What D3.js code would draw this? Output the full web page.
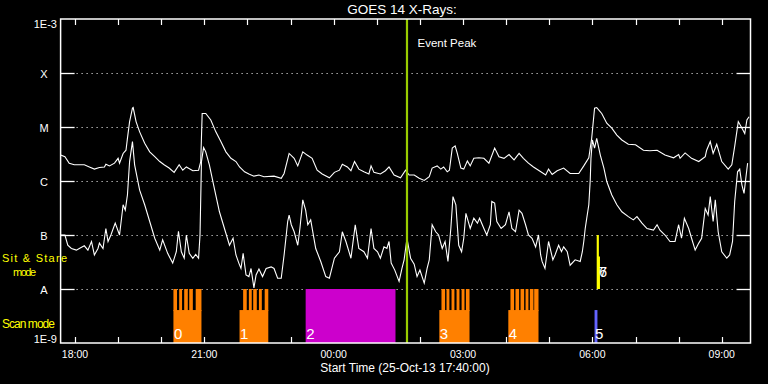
<!DOCTYPE html>
<html>
<head>
<meta charset="utf-8">
<script src="https://cdn.jsdelivr.net/npm/d3@7"></script>
<style>
  html, body { margin: 0; padding: 0; background: #000; }
  svg { display: block; }
  text { font-family: "Liberation Sans", Arial, sans-serif; fill: #fff; }
</style>
</head>
<body>
<svg></svg>
<script>
const width = 768;
const height = 384;

// -----------------------------
// DATA
// -----------------------------
// minutes after 25-Oct-13 17:40 UT, log10 flux (W/m^2)
const startTime = Date.UTC(2013, 9, 25, 17, 40);
const spanMinutes = 960;

const fluxLong = [
  [0,-5.52],[6,-5.55],[12,-5.67],[19,-5.70],[33,-5.70],[40,-5.74],[47,-5.78],[54,-5.75],[61,-5.74],[63,-5.69],
  [68,-5.72],[75,-5.67],[80,-5.58],[82,-5.67],[87,-5.49],[91,-5.43],[93,-5.21],[96,-4.90],[100,-4.65],[101,-4.64],
  [105,-4.90],[110,-5.09],[117,-5.30],[124,-5.46],[131,-5.55],[138,-5.64],[144,-5.70],[151,-5.76],[158,-5.84],[165,-5.70],
  [170,-5.80],[175,-5.74],[184,-5.81],[192,-5.80],[195,-5.64],[197,-4.75],[202,-4.75],[209,-4.87],[216,-5.09],[223,-5.27],
  [230,-5.46],[237,-5.58],[244,-5.64],[249,-5.74],[256,-5.83],[262,-5.87],[269,-5.91],[276,-5.89],[283,-5.92],[297,-5.91],
  [307,-5.95],[311,-5.86],[318,-5.49],[325,-5.58],[330,-5.72],[337,-5.46],[343,-5.52],[350,-5.58],[357,-5.80],[364,-5.87],
  [374,-5.94],[381,-5.84],[388,-5.80],[392,-5.69],[399,-5.74],[404,-5.81],[409,-5.64],[415,-5.78],[422,-5.83],[429,-5.87],
  [432,-5.72],[436,-5.84],[445,-5.87],[452,-5.81],[457,-5.74],[464,-5.89],[473,-5.94],[480,-5.80],[485,-5.89],[492,-5.89],
  [499,-5.95],[506,-5.99],[513,-5.92],[517,-5.76],[524,-5.72],[529,-5.78],[533,-5.74],[538,-5.83],[541,-5.80],[545,-5.39],
  [549,-5.35],[552,-5.49],[557,-5.76],[561,-5.78],[566,-5.63],[570,-5.72],[575,-5.58],[582,-5.57],[589,-5.58],[596,-5.67],
  [604,-5.39],[610,-5.55],[617,-5.58],[624,-5.51],[631,-5.61],[638,-5.49],[644,-5.58],[651,-5.67],[658,-5.74],[665,-5.80],
  [675,-5.89],[679,-5.78],[684,-5.88],[691,-5.81],[700,-5.76],[709,-5.86],[721,-5.86],[728,-5.72],[735,-5.57],[739,-5.21],
  [743,-4.65],[746,-4.64],[753,-4.75],[760,-4.93],[767,-5.02],[774,-5.15],[781,-5.24],[790,-5.32],[800,-5.33],[811,-5.43],
  [820,-5.44],[830,-5.43],[841,-5.52],[853,-5.57],[860,-5.51],[862,-5.58],[869,-5.48],[878,-5.58],[888,-5.64],[897,-5.55],
  [899,-5.43],[904,-5.27],[908,-5.49],[913,-5.32],[920,-5.64],[929,-5.78],[934,-5.70],[938,-5.36],[943,-4.90],[948,-5.02],
  [952,-5.12],[955,-4.87],[958,-4.81]
];

const fluxShort = [
  [0,-7.00],[6,-7.00],[10,-7.19],[15,-7.25],[22,-7.28],[26,-7.25],[33,-7.20],[38,-7.28],[43,-7.12],[47,-7.37],
  [52,-7.25],[54,-7.15],[59,-7.25],[63,-6.88],[66,-7.12],[70,-7.00],[76,-6.78],[82,-7.00],[87,-6.44],[90,-6.54],
  [93,-6.26],[96,-5.64],[100,-5.27],[103,-5.70],[110,-6.17],[117,-6.44],[124,-6.75],[131,-7.06],[138,-7.28],[142,-7.09],
  [149,-7.34],[156,-7.52],[161,-7.31],[164,-6.93],[168,-7.31],[172,-7.43],[175,-7.00],[179,-7.34],[184,-7.43],[188,-7.36],
  [192,-7.43],[194,-7.00],[196,-5.64],[199,-5.38],[202,-5.46],[207,-5.70],[214,-6.14],[221,-6.57],[228,-6.88],[235,-7.19],
  [240,-7.06],[244,-7.37],[248,-7.52],[251,-7.62],[254,-7.34],[258,-7.74],[262,-7.77],[265,-7.62],[269,-7.98],[272,-7.74],
  [276,-7.63],[281,-7.77],[286,-7.62],[293,-7.59],[297,-7.62],[302,-7.80],[307,-7.80],[311,-7.37],[316,-6.75],[318,-6.63],
  [321,-6.81],[325,-6.94],[330,-7.19],[333,-6.88],[337,-6.35],[341,-6.54],[344,-6.81],[348,-6.72],[355,-7.25],[362,-7.49],
  [369,-7.77],[374,-7.80],[381,-7.43],[388,-7.31],[392,-6.94],[397,-7.12],[404,-7.43],[410,-6.81],[415,-7.25],[422,-7.31],
  [427,-7.43],[432,-6.88],[436,-7.25],[441,-7.31],[445,-7.43],[450,-7.22],[454,-7.25],[457,-7.12],[460,-7.52],[465,-7.65],
  [471,-7.86],[475,-7.62],[478,-7.46],[482,-7.06],[487,-7.43],[492,-7.54],[496,-7.77],[500,-7.65],[506,-7.89],[510,-7.62],
  [513,-7.46],[517,-6.81],[522,-6.94],[526,-7.00],[531,-7.25],[535,-7.12],[539,-7.49],[543,-6.88],[546,-6.29],[550,-6.44],
  [554,-7.19],[558,-7.31],[561,-7.06],[564,-6.60],[570,-6.88],[575,-6.69],[580,-6.78],[583,-6.69],[589,-6.88],[593,-7.00],
  [598,-6.81],[600,-6.38],[604,-6.41],[607,-6.75],[613,-6.88],[619,-6.81],[624,-6.57],[628,-6.88],[633,-6.94],[638,-6.54],
  [642,-6.60],[647,-6.81],[651,-7.00],[656,-7.06],[661,-7.22],[665,-7.00],[668,-7.37],[670,-7.49],[674,-7.62],[679,-7.12],
  [685,-7.46],[688,-7.37],[693,-7.19],[697,-7.31],[700,-7.22],[705,-7.31],[709,-7.56],[716,-7.46],[723,-7.49],[726,-7.31],
  [728,-7.12],[730,-6.88],[732,-6.70],[735,-6.44],[737,-5.98],[738,-5.58],[740,-5.24],[743,-5.39],[746,-5.21],[751,-5.52],
  [756,-5.76],[760,-6.01],[767,-6.26],[774,-6.44],[781,-6.57],[790,-6.66],[797,-6.72],[802,-6.66],[809,-6.78],[816,-6.88],
  [825,-6.91],[830,-6.81],[834,-6.91],[841,-7.00],[848,-7.12],[855,-7.12],[860,-6.81],[864,-7.06],[868,-6.69],[874,-6.88],
  [878,-7.06],[883,-7.28],[888,-7.15],[892,-7.06],[897,-6.51],[901,-6.63],[904,-6.29],[908,-6.75],[911,-6.35],[915,-6.94],
  [920,-7.31],[927,-7.43],[931,-7.37],[935,-7.12],[938,-6.38],[942,-5.83],[945,-5.78],[948,-6.07],[951,-6.23],[954,-5.89],
  [956,-5.67]
];

// flux class labels on the left axis
const classLabels = ["1E-9", "A", "B", "C", "M", "X", "1E-3"];
const classValues = [1e-9, 1e-8, 1e-7, 1e-6, 1e-5, 1e-4, 1e-3];

// observations (minutes after start)
const scanObs = [
  { id: "0", kind: "raster", start: 157, end: 196, teeth: [[157,162],[165,169],[172,177],[179,184],[188,196]] },
  { id: "1", kind: "raster", start: 249, end: 289, teeth: [[254,259],[262,266],[268,273],[276,280],[284,289]] },
  { id: "2", kind: "mosaic", start: 341, end: 466, teeth: [] },
  { id: "3", kind: "raster", start: 527, end: 569, teeth: [[530,535],[537,541],[544,548],[551,555],[558,562],[564,569]] },
  { id: "4", kind: "raster", start: 623, end: 665, teeth: [[626,631],[633,638],[640,645],[647,651],[653,658],[659,665]] },
  { id: "5", kind: "short", start: 743, end: 747, teeth: [] }
];

const sitStareObs = [
  { id: "6", start: 746, end: 749, top: 1e-7 },
  { id: "7", start: 747, end: 750.5, top: 4e-8 }
];

const eventPeak = 482;

// -----------------------------
// SCALES
// -----------------------------
const minToDate = m => new Date(startTime + m * 60000);

const x = d3.scaleUtc()
  .domain([minToDate(0), minToDate(spanMinutes)])
  .range([60.6, 750.5]);

const y = d3.scaleLog()
  .domain([1e-9, 1e-3])
  .range([343, 19]);

const kindColor = { raster: "#ff8000", mosaic: "#cc00cc", short: "#6464ff" };
const scanBaseTop = Math.pow(10, -8.39);

const svg = d3.select("svg")
  .attr("width", width)
  .attr("height", height)
  .style("background", "#000");

svg.append("rect")
  .attr("width", width)
  .attr("height", height)
  .attr("fill", "#000");

const x0 = x.range()[0], x1 = x.range()[1];
const yTop = y.range()[1], yBot = y.range()[0];

// -----------------------------
// GRID + Y TICKS
// -----------------------------
const grid = svg.append("g");

grid.selectAll("line.dot")
  .data(classValues.slice(1, -1))
  .join("line")
  .attr("class", "dot")
  .attr("x1", x0 + 16).attr("x2", x1 - 15)
  .attr("y1", d => Math.round(y(d)) + 0.5)
  .attr("y2", d => Math.round(y(d)) + 0.5)
  .attr("stroke", "#fff")
  .attr("stroke-width", 1)
  .attr("stroke-dasharray", "1,4");

grid.selectAll("line.tl")
  .data(classValues.slice(1, -1))
  .join("line")
  .attr("class", "tl")
  .attr("x1", x0).attr("x2", x0 + 14)
  .attr("y1", d => Math.round(y(d)) + 0.5)
  .attr("y2", d => Math.round(y(d)) + 0.5)
  .attr("stroke", "#fff")
  .attr("stroke-width", 1.3);

grid.selectAll("line.tr")
  .data(classValues.slice(1, -1))
  .join("line")
  .attr("class", "tr")
  .attr("x1", x1 - 14).attr("x2", x1)
  .attr("y1", d => Math.round(y(d)) + 0.5)
  .attr("y2", d => Math.round(y(d)) + 0.5)
  .attr("stroke", "#fff")
  .attr("stroke-width", 1.3);

svg.append("g")
  .selectAll("text")
  .data(classLabels)
  .join("text")
  .attr("x", (d, i) => d.length > 1 ? 57 : 44)
  .attr("y", (d, i) => i === classLabels.length - 1 ? y(classValues[i]) + 8.5 : (i === 0 ? y(classValues[i]) : y(classValues[i]) + 4.5))
  .attr("text-anchor", d => d.length > 1 ? "end" : "middle")
  .attr("font-size", 11)
  .text(d => d);

// -----------------------------
// X TICKS
// -----------------------------
const hours = x.ticks(d3.utcHour.every(1));
const tickG = svg.append("g");

tickG.selectAll("line.tb")
  .data(hours)
  .join("line")
  .attr("class", "tb")
  .attr("x1", d => Math.round(x(d)) + 0.5).attr("x2", d => Math.round(x(d)) + 0.5)
  .attr("y1", yBot - 6).attr("y2", yBot)
  .attr("stroke", "#fff").attr("stroke-width", 1.2);

tickG.selectAll("line.tt")
  .data(hours)
  .join("line")
  .attr("class", "tt")
  .attr("x1", d => Math.round(x(d)) + 0.5).attr("x2", d => Math.round(x(d)) + 0.5)
  .attr("y1", yTop).attr("y2", yTop + 6)
  .attr("stroke", "#fff").attr("stroke-width", 1.2);

tickG.selectAll("text")
  .data(x.ticks(d3.utcHour.every(3)))
  .join("text")
  .attr("x", d => x(d))
  .attr("y", 358)
  .attr("text-anchor", "middle")
  .attr("font-size", 10.5)
  .text(d => d3.utcFormat("%H:%M")(d));

// -----------------------------
// OBSERVATION BARS
// -----------------------------
const obsG = svg.append("g");

scanObs.forEach(o => {
  const top = o.kind === "mosaic" ? 1e-8 : scanBaseTop;
  obsG.append("rect")
    .attr("x", x(minToDate(o.start)))
    .attr("y", y(top))
    .attr("width", x(minToDate(o.end)) - x(minToDate(o.start)))
    .attr("height", yBot - y(top))
    .attr("fill", kindColor[o.kind]);

  obsG.selectAll(null)
    .data(o.teeth)
    .join("rect")
    .attr("x", d => x(minToDate(d[0])))
    .attr("y", y(1e-8))
    .attr("width", d => x(minToDate(d[1])) - x(minToDate(d[0])))
    .attr("height", y(scanBaseTop) - y(1e-8) + 1)
    .attr("fill", kindColor[o.kind]);

  obsG.append("text")
    .attr("x", x(minToDate(o.start)) + 0.5)
    .attr("y", 339)
    .attr("font-size", 15)
    .attr("font-weight", 300)
    .text(o.id);
});

sitStareObs.forEach(o => {
  obsG.append("rect")
    .attr("x", x(minToDate(o.start)))
    .attr("y", y(o.top))
    .attr("width", x(minToDate(o.end)) - x(minToDate(o.start)))
    .attr("height", y(1e-8) - y(o.top))
    .attr("fill", "#ffff00");
});

obsG.selectAll("text.ss")
  .data(sitStareObs)
  .join("text")
  .attr("class", "ss")
  .attr("x", x(minToDate(sitStareObs[0].end)) + 0.5)
  .attr("y", 277)
  .attr("font-size", 14)
  .text(d => d.id);

// -----------------------------
// CURVES
// -----------------------------
const line = d3.line()
  .x(d => x(minToDate(d[0])))
  .y(d => y(Math.pow(10, d[1])));

svg.append("path")
  .datum(fluxLong)
  .attr("d", line)
  .attr("fill", "none")
  .attr("stroke", "#fff")
  .attr("stroke-width", 1.1);

svg.append("path")
  .datum(fluxShort)
  .attr("d", line)
  .attr("fill", "none")
  .attr("stroke", "#fff")
  .attr("stroke-width", 1.1);

// -----------------------------
// EVENT PEAK
// -----------------------------
const xp = x(minToDate(eventPeak));
svg.append("line")
  .attr("x1", xp).attr("x2", xp)
  .attr("y1", yTop).attr("y2", yBot)
  .attr("stroke", "#99cc00")
  .attr("stroke-width", 2.2);

svg.append("text")
  .attr("x", xp + 10.5)
  .attr("y", 46.5)
  .attr("font-size", 11.5)
  .text("Event Peak");

// -----------------------------
// FRAME + LABELS
// -----------------------------
svg.append("rect")
  .attr("x", x0).attr("y", yTop)
  .attr("width", x1 - x0).attr("height", yBot - yTop)
  .attr("fill", "none")
  .attr("stroke", "#fff")
  .attr("stroke-width", 1.5);

svg.append("text")
  .attr("x", 402)
  .attr("y", 14)
  .attr("text-anchor", "middle")
  .attr("font-size", 13.5)
  .text("GOES 14 X-Rays:");

svg.append("text")
  .attr("x", 405)
  .attr("y", 372)
  .attr("text-anchor", "middle")
  .attr("font-size", 12)
  .text("Start Time (25-Oct-13 17:40:00)");

const modeLabels = svg.append("g");
modeLabels.append("text").attr("x", 2).attr("y", 261.5).attr("font-size", 11)
  .attr("textLength", 65).style("fill", "#ffff00").text("Sit & Stare");
modeLabels.append("text").attr("x", 13).attr("y", 275.5).attr("font-size", 11)
  .attr("textLength", 23).style("fill", "#ffff00").text("mode");
modeLabels.append("text").attr("x", 2).attr("y", 327.5).attr("font-size", 12)
  .attr("textLength", 53).style("fill", "#ffff00").text("Scan mode");
</script>
</body>
</html>
